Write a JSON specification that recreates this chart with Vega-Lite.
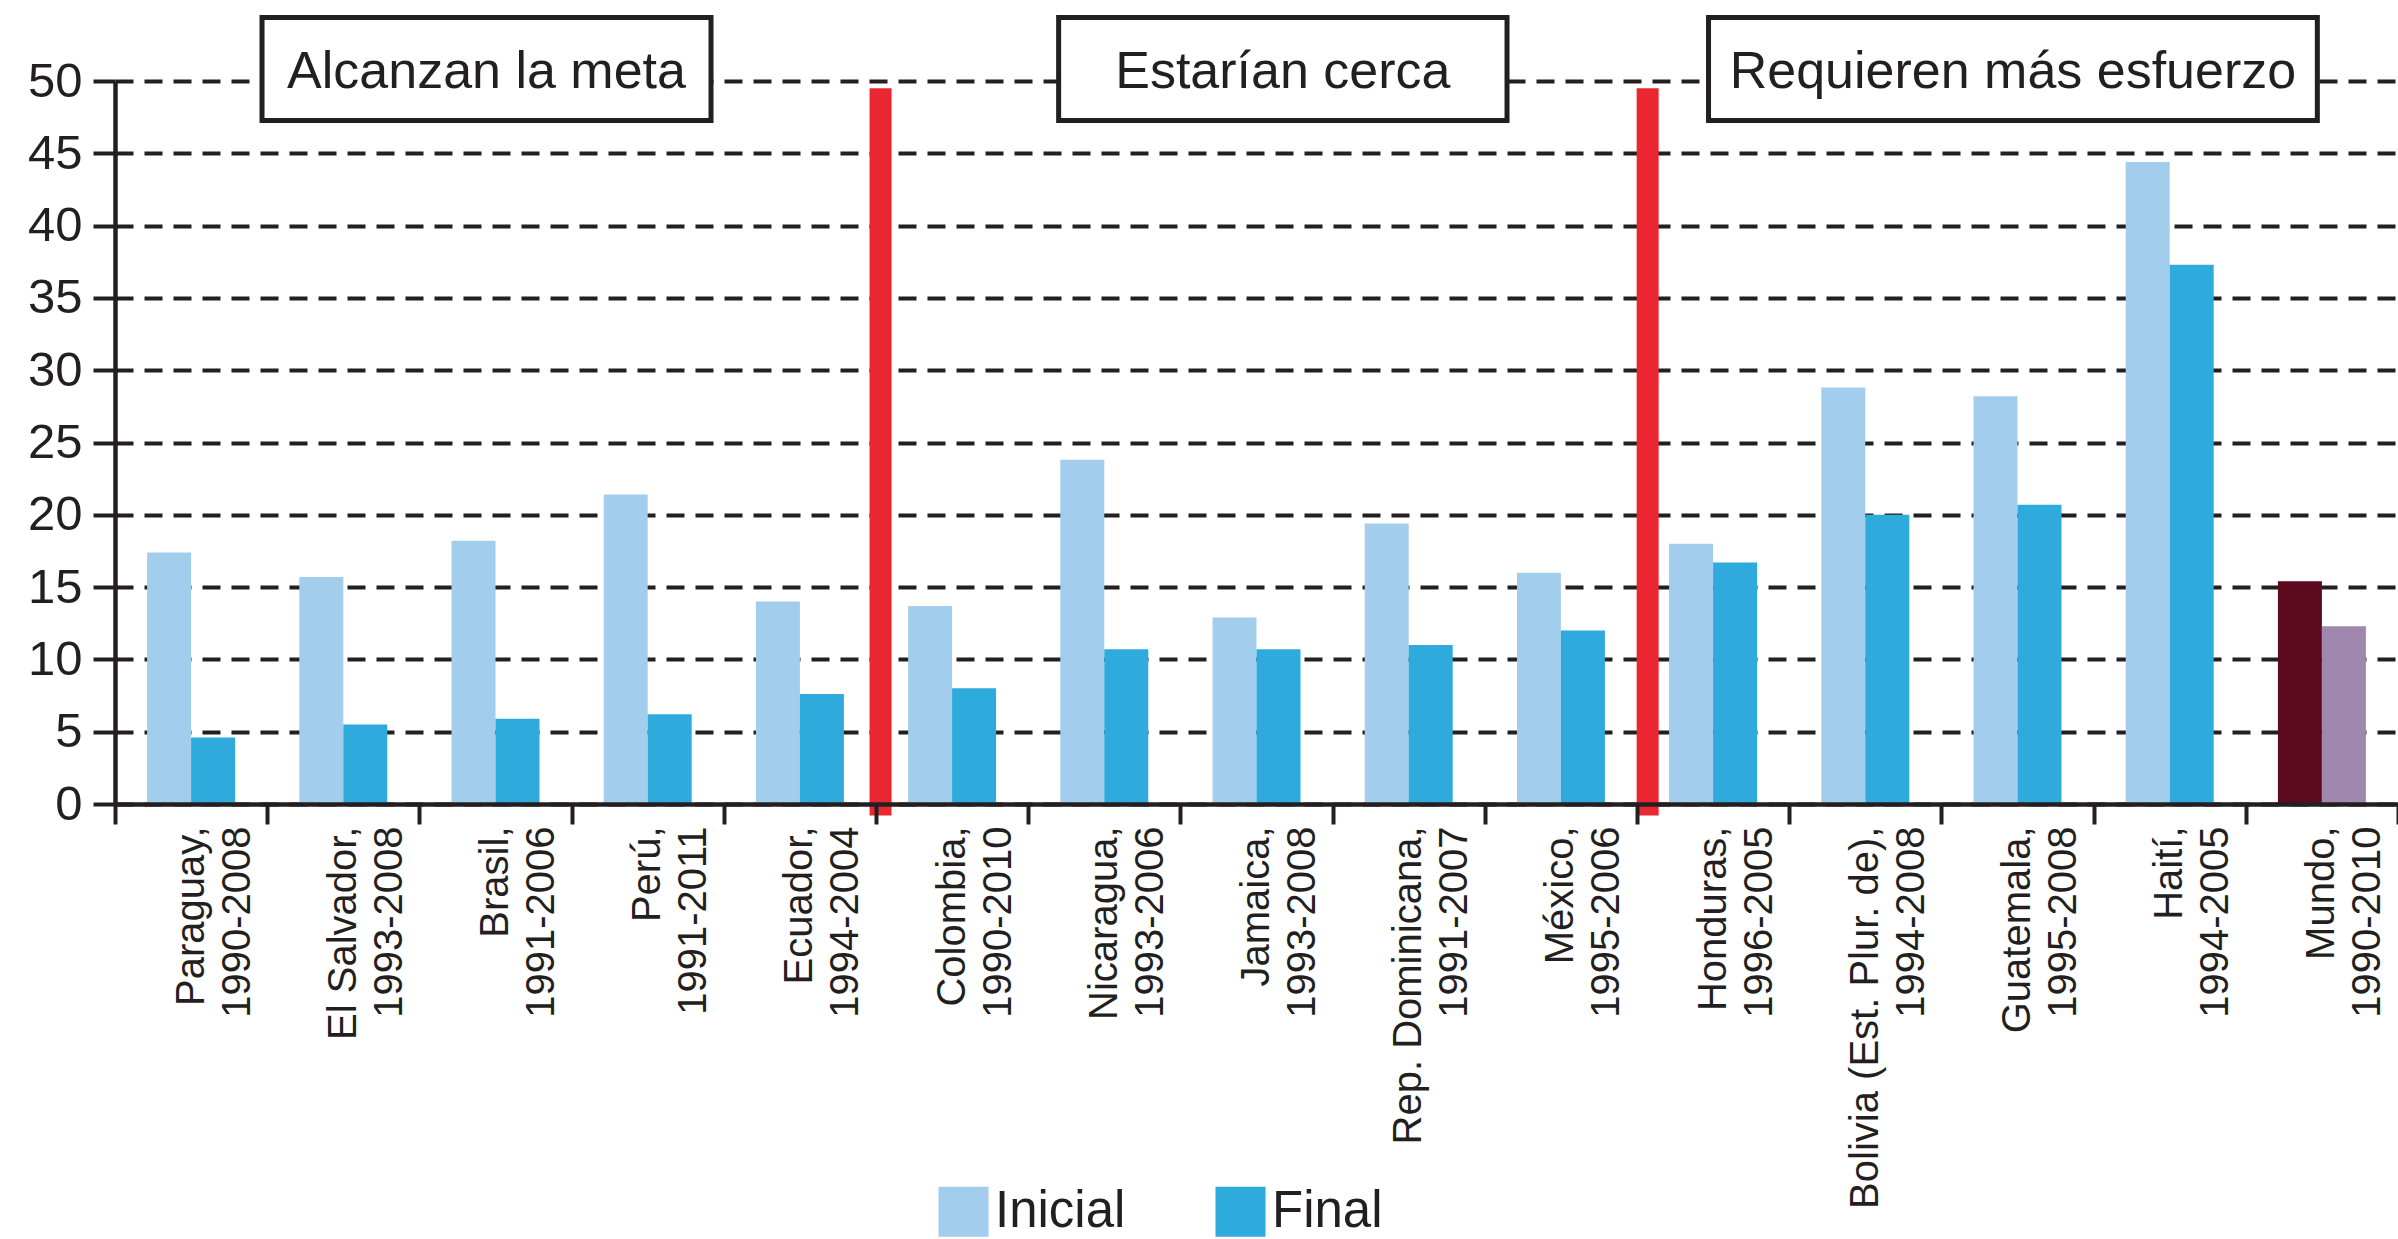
{
  "$schema": "https://vega.github.io/schema/vega-lite/v6.json",
  "width": 2283,
  "height": 723,
  "autosize": {"type": "none"},
  "padding": {"left": 115, "top": 81, "right": 0, "bottom": 435},
  "background": "white",
  "config": {
    "view": {"stroke": null},
    "font": "Liberation Sans",
    "axis": {"domainColor": "#231f20", "tickColor": "#231f20", "labelColor": "#231f20", "labelFont": "Liberation Sans"},
    "axisY": {
      "labelFontSize": 49, "labelPadding": 11, "tickSize": 22, "tickWidth": 4,
      "domainWidth": 4.5, "grid": true, "gridDash": [18, 11], "gridWidth": 4,
      "gridColor": "#231f20", "gridOpacity": 1
    }
  },
  "datasets": {
    "barras": [
      {"pais": "Paraguay, 1990-2008", "tipo": "Inicial", "serie": "Inicial", "valor": 17.4},
      {"pais": "Paraguay, 1990-2008", "tipo": "Final", "serie": "Final", "valor": 4.6},
      {"pais": "El Salvador, 1993-2008", "tipo": "Inicial", "serie": "Inicial", "valor": 15.7},
      {"pais": "El Salvador, 1993-2008", "tipo": "Final", "serie": "Final", "valor": 5.5},
      {"pais": "Brasil, 1991-2006", "tipo": "Inicial", "serie": "Inicial", "valor": 18.2},
      {"pais": "Brasil, 1991-2006", "tipo": "Final", "serie": "Final", "valor": 5.9},
      {"pais": "Perú, 1991-2011", "tipo": "Inicial", "serie": "Inicial", "valor": 21.4},
      {"pais": "Perú, 1991-2011", "tipo": "Final", "serie": "Final", "valor": 6.2},
      {"pais": "Ecuador, 1994-2004", "tipo": "Inicial", "serie": "Inicial", "valor": 14.0},
      {"pais": "Ecuador, 1994-2004", "tipo": "Final", "serie": "Final", "valor": 7.6},
      {"pais": "Colombia, 1990-2010", "tipo": "Inicial", "serie": "Inicial", "valor": 13.7},
      {"pais": "Colombia, 1990-2010", "tipo": "Final", "serie": "Final", "valor": 8.0},
      {"pais": "Nicaragua, 1993-2006", "tipo": "Inicial", "serie": "Inicial", "valor": 23.8},
      {"pais": "Nicaragua, 1993-2006", "tipo": "Final", "serie": "Final", "valor": 10.7},
      {"pais": "Jamaica, 1993-2008", "tipo": "Inicial", "serie": "Inicial", "valor": 12.9},
      {"pais": "Jamaica, 1993-2008", "tipo": "Final", "serie": "Final", "valor": 10.7},
      {"pais": "Rep. Dominicana, 1991-2007", "tipo": "Inicial", "serie": "Inicial", "valor": 19.4},
      {"pais": "Rep. Dominicana, 1991-2007", "tipo": "Final", "serie": "Final", "valor": 11.0},
      {"pais": "México, 1995-2006", "tipo": "Inicial", "serie": "Inicial", "valor": 16.0},
      {"pais": "México, 1995-2006", "tipo": "Final", "serie": "Final", "valor": 12.0},
      {"pais": "Honduras, 1996-2005", "tipo": "Inicial", "serie": "Inicial", "valor": 18.0},
      {"pais": "Honduras, 1996-2005", "tipo": "Final", "serie": "Final", "valor": 16.7},
      {"pais": "Bolivia (Est. Plur. de), 1994-2008", "tipo": "Inicial", "serie": "Inicial", "valor": 28.8},
      {"pais": "Bolivia (Est. Plur. de), 1994-2008", "tipo": "Final", "serie": "Final", "valor": 20.0},
      {"pais": "Guatemala, 1995-2008", "tipo": "Inicial", "serie": "Inicial", "valor": 28.2},
      {"pais": "Guatemala, 1995-2008", "tipo": "Final", "serie": "Final", "valor": 20.7},
      {"pais": "Haití, 1994-2005", "tipo": "Inicial", "serie": "Inicial", "valor": 44.4},
      {"pais": "Haití, 1994-2005", "tipo": "Final", "serie": "Final", "valor": 37.3},
      {"pais": "Mundo, 1990-2010", "tipo": "Inicial", "serie": "Mundo inicial", "valor": 15.4},
      {"pais": "Mundo, 1990-2010", "tipo": "Final", "serie": "Mundo final", "valor": 12.3}
    ],
    "cajas": [
      {"grupo": "Alcanzan la meta", "desde": 0.966, "hasta": 3.916},
      {"grupo": "Estarían cerca", "desde": 6.2, "hasta": 9.146},
      {"grupo": "Requieren más esfuerzo", "desde": 10.47, "hasta": 14.47}
    ],
    "divisores": [
      {"limite": 5.03},
      {"limite": 10.07}
    ]
  },
  "layer": [
    {
      "data": {"name": "barras"},
      "mark": {"type": "bar"},
      "encoding": {
        "x": {
          "field": "pais", "type": "nominal", "sort": null,
          "scale": {"paddingInner": 0, "paddingOuter": 0},
          "axis": {
            "title": null, "labelAngle": -90, "labelFontSize": 40, "labelLineHeight": 46,
            "labelPadding": 2, "tickBand": "extent", "tickSize": 20, "tickWidth": 4,
            "domainWidth": 4.5, "labelLimit": 1000, "labelOverlap": false, "zindex": 1,
            "labelExpr": "datum.label ? [split(datum.label, ', ')[0] + ',', split(datum.label, ', ')[1]] : ''"
          }
        },
        "xOffset": {"field": "tipo", "type": "nominal", "sort": ["Inicial", "Final"], "scale": {"paddingInner": 0, "paddingOuter": 0.73}},
        "y": {
          "field": "valor", "type": "quantitative",
          "scale": {"domain": [0, 50], "nice": false},
          "axis": {"title": null, "values": [0, 5, 10, 15, 20, 25, 30, 35, 40, 45, 50]}
        },
        "color": {
          "field": "serie", "type": "nominal",
          "scale": {"domain": ["Inicial", "Final", "Mundo inicial", "Mundo final"], "range": ["#a3cdec", "#2eaadc", "#5c0a1e", "#a087ae"]},
          "legend": {
            "orient": "none", "legendX": 823, "legendY": 1105, "direction": "horizontal",
            "title": null, "values": ["Inicial", "Final"], "symbolType": "square",
            "symbolSize": 2500, "symbolStrokeWidth": 0, "symbolOpacity": 1,
            "labelFontSize": 51, "labelOffset": 6, "columnPadding": 89,
            "labelColor": "#231f20", "labelFont": "Liberation Sans", "labelLimit": 1000
          }
        }
      }
    },
    {
      "layer": [
        {
          "data": {"name": "divisores"},
          "mark": {"type": "rule", "color": "#ea2630", "strokeWidth": 22},
          "encoding": {
            "x": {"field": "limite", "type": "quantitative", "scale": {"domain": [0, 15], "nice": false, "zero": false}, "axis": null},
            "y": {"datum": 49.5, "type": "quantitative", "scale": {"domain": [0, 50], "nice": false}, "axis": {"title": null, "values": [0, 5, 10, 15, 20, 25, 30, 35, 40, 45, 50]}},
            "y2": {"datum": -0.8}
          }
        },
        {
          "data": {"name": "cajas"},
          "mark": {"type": "rect", "fill": "white", "stroke": "#231f20", "strokeWidth": 5},
          "encoding": {
            "x": {"field": "desde", "type": "quantitative", "scale": {"domain": [0, 15], "nice": false, "zero": false}, "axis": null},
            "x2": {"field": "hasta"},
            "y": {"datum": 54.4, "type": "quantitative", "scale": {"domain": [0, 50], "nice": false}, "axis": {"title": null, "values": [0, 5, 10, 15, 20, 25, 30, 35, 40, 45, 50]}},
            "y2": {"datum": 47.27}
          }
        },
        {
          "data": {"name": "cajas"},
          "transform": [{"calculate": "(datum.desde + datum.hasta) / 2", "as": "centro"}],
          "mark": {"type": "text", "fontSize": 52, "font": "Liberation Sans", "color": "#231f20", "align": "center", "baseline": "alphabetic"},
          "encoding": {
            "x": {"field": "centro", "type": "quantitative", "scale": {"domain": [0, 15], "nice": false, "zero": false}, "axis": null},
            "y": {"datum": 49.5, "type": "quantitative", "scale": {"domain": [0, 50], "nice": false}, "axis": {"title": null, "values": [0, 5, 10, 15, 20, 25, 30, 35, 40, 45, 50]}},
            "text": {"field": "grupo"}
          }
        }
      ]
    }
  ],
  "resolve": {"scale": {"x": "independent"}}
}
